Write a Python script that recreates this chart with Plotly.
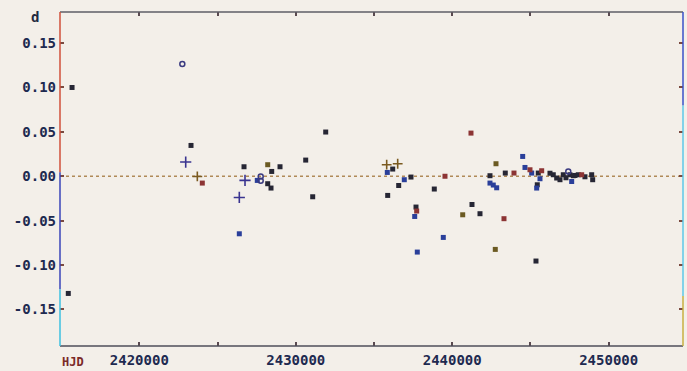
import plotly.graph_objects as go

# ---------------- data (HJD, O-C in days) ----------------
dark_hjd = [2415700, 2415460, 2423304, 2426691, 2428462, 2428206, 2428417, 2428992,
            2430635, 2431913, 2431082, 2436195, 2436578, 2435875, 2437364, 2438853,
            2437684, 2442413, 2443391, 2441263, 2441774, 2445353, 2445500, 2445436,
            2446459, 2446676, 2446887, 2447098, 2447526, 2447846, 2448056, 2448913,
            2448977, 2446248, 2447271, 2447740, 2448484]
dark_d = [0.100, -0.132, 0.0347, 0.0107, 0.0054, -0.0084, -0.0133, 0.0107,
          0.0182, 0.0498, -0.0231, 0.0081, -0.0104, -0.0216, -0.0009, -0.0144,
          -0.0347, 0.0006, 0.0036, -0.0318, -0.0422, -0.0955, 0.0036, -0.0096,
          0.0017, -0.0020, -0.0039, 0.0017, 0.0017, 0.0009, 0.0017, 0.0017,
          -0.0039, 0.0034, -0.0017, 0.0006, -0.0006]

blue_hjd = [2435850, 2436936, 2437601, 2437767, 2439429, 2442413, 2442624, 2442841,
            2444503, 2444650, 2445078, 2445609, 2445398, 2447635, 2426391, 2427541]
blue_d = [0.0043, -0.0039, -0.0453, -0.0854, -0.0689, -0.0077, -0.0099, -0.0130,
          0.0223, 0.0099, 0.0036, -0.0028, -0.0133, -0.0059, -0.0648, -0.0047]

red_hjd = [2424026, 2439537, 2437728, 2441199, 2443947, 2443308, 2444970, 2445717, 2448274]
red_d = [-0.0077, 0.0000, -0.0392, 0.0486, 0.0036, -0.0478, 0.0073, 0.0062, 0.0017]

olive_hjd = [2442797, 2440669, 2442752, 2428206]
olive_d = [0.0141, -0.0434, -0.0824, 0.0130]

cross_blue_hjd = [2422965, 2426391, 2426755]
cross_blue_d = [0.0160, -0.0239, -0.0047]

cross_warm_hjd = [2423707, 2435811, 2436514]
cross_warm_d = [-0.0002, 0.0130, 0.0141]

circle_hjd = [2422748, 2427759, 2427759, 2447417]
circle_d = [0.1264, -0.0002, -0.0050, 0.0054]

x_tickvals = [2420000, 2425000, 2430000, 2435000, 2440000, 2445000, 2450000]
x_ticktext = ["2420000", "", "2430000", "", "2440000", "", "2450000"]
y_tickvals = [0.15, 0.10, 0.05, 0.00, -0.05, -0.10, -0.15]
y_ticktext = ["0.15", "0.10", "0.05", "0.00", "-0.05", "-0.10", "-0.15"]

X_RANGE = [2414930, 2454750]
Y_RANGE = [-0.1912, 0.185]

# ---------------- figure ----------------
BG = "#f3efe9"
fig = go.Figure()

def sq(x, y, color):
    fig.add_trace(go.Scatter(x=x, y=y, mode="markers",
                             marker=dict(symbol="square", size=5, color=color,
                                         line=dict(width=0)),
                             showlegend=False, hoverinfo="x+y"))

sq(dark_hjd, dark_d, "#262634")
sq(blue_hjd, blue_d, "#2a3f9a")
sq(red_hjd, red_d, "#8c3434")
sq(olive_hjd, olive_d, "#6b5a22")

fig.add_trace(go.Scatter(x=cross_blue_hjd, y=cross_blue_d, mode="markers",
                         marker=dict(symbol="cross-thin", size=8, color="#3a3490",
                                     line=dict(width=1.6, color="#3a3490")),
                         showlegend=False))
fig.add_trace(go.Scatter(x=cross_warm_hjd, y=cross_warm_d, mode="markers",
                         marker=dict(symbol="cross-thin", size=7, color="#7a5a20",
                                     line=dict(width=1.6, color="#7a5a20")),
                         showlegend=False))
fig.add_trace(go.Scatter(x=circle_hjd, y=circle_d, mode="markers",
                         marker=dict(symbol="circle-open", size=5, color="#3a3a80",
                                     line=dict(width=1.5, color="#3a3a80")),
                         showlegend=False))

# zero line (dotted)
fig.add_shape(type="line", xref="paper", yref="y", x0=0, x1=1, y0=0, y1=0,
              line=dict(color="#b08a58", width=1.3, dash="dot"), layer="below")

# frame lines with scan-like colours
def seg(x0, x1, y0, y1, color):
    fig.add_shape(type="line", xref="paper", yref="paper", x0=x0, x1=x1, y0=y0, y1=y1,
                  line=dict(color=color, width=1.5), layer="above")

seg(0, 1, 1, 1, "#5e5e66")
seg(0, 1, 0, 0, "#4e4e58")
seg(0, 0, 1.0, 0.52, "#d0503a")
seg(0, 0, 0.52, 0.17, "#3a44b8")
seg(0, 0, 0.17, 0.0, "#3cc0e0")
seg(1, 1, 1.0, 0.72, "#3a50c8")
seg(1, 1, 0.72, 0.15, "#5cc8e8")
seg(1, 1, 0.15, 0.0, "#c8b040")

FONT = "DejaVu Sans Mono"
fig.update_xaxes(range=X_RANGE, tickvals=x_tickvals, ticktext=x_ticktext,
                 automargin=False,
                 showgrid=False, zeroline=False, showline=False, mirror="allticks",
                 ticks="inside", ticklen=4,
                 tickwidth=1.5, tickcolor="#5a4a50", ticklabelstandoff=4,
                 tickfont=dict(family=FONT, size=14, color="#1e2a50", weight="bold"))
fig.update_yaxes(range=Y_RANGE, tickvals=y_tickvals, ticktext=y_ticktext,
                 automargin=False,
                 showgrid=False, zeroline=False, showline=False, mirror="allticks",
                 ticks="inside", ticklen=4,
                 tickwidth=1.5, tickcolor="#7a4a40", ticklabelstandoff=3,
                 tickfont=dict(family=FONT, size=14, color="#1e2a50", weight="bold"))

fig.add_annotation(text="d", xref="paper", yref="paper", x=-0.04, y=0.985,
                   xanchor="center", yanchor="middle", showarrow=False,
                   font=dict(family=FONT, size=14, color="#222a40", weight="bold"))
fig.add_annotation(text="HJD", xref="paper", yref="paper", x=0.0, y=-0.049,
                   xanchor="left", yanchor="middle", showarrow=False,
                   font=dict(family=FONT, size=12, color="#7a2a28", weight="bold"))

fig.update_layout(width=687, height=371, paper_bgcolor=BG, plot_bgcolor=BG,
                  margin=dict(l=60, r=4, t=12, b=25), showlegend=False)

fig.write_html("out.html", config={"displayModeBar": False},
               post_script="document.body.style.margin='0px';document.body.style.overflow='hidden';")
